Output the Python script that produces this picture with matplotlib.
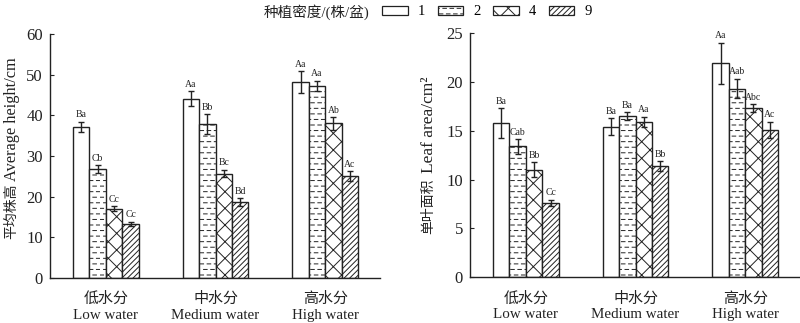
import numpy as np
import matplotlib
matplotlib.use("Agg")
import matplotlib.pyplot as plt
import matplotlib.hatch as mhatch
from matplotlib.path import Path
from matplotlib.patches import Patch

# ---------------- data ----------------
groups_cn = ["低水分", "中水分", "高水分"]
groups_en = ["Low water", "Medium water", "High water"]
densities = ["1", "2", "4", "9"]

height_vals = [[37.2, 26.8, 17.1, 13.3],
               [44.1, 37.9, 25.7, 18.7],
               [48.2, 47.2, 38.0, 25.0]]
height_err = [[1.2, 1.0, 0.5, 0.5],
              [1.8, 2.4, 0.9, 0.9],
              [2.6, 1.3, 1.5, 1.2]]
height_lbl = [["Ba", "Cb", "Cc", "Cc"],
              ["Aa", "Bb", "Bc", "Bd"],
              ["Aa", "Aa", "Ab", "Ac"]]

leaf_vals = [[15.8, 13.4, 11.0, 7.6],
             [15.4, 16.5, 15.9, 11.4],
             [21.9, 19.3, 17.3, 15.1]]
leaf_err = [[1.5, 0.75, 0.75, 0.35],
            [0.85, 0.4, 0.55, 0.5],
            [2.1, 1.0, 0.4, 0.8]]
leaf_lbl = [["Ba", "Cab", "Bb", "Cc"],
            ["Ba", "Ba", "Aa", "Bb"],
            ["Aa", "Aab", "Abc", "Ac"]]

# ---------------- custom dashed hatch (replaces '-') ----------------
class DashHatch(mhatch.HatchPatternBase):
    def __init__(self, hatch, density):
        self.num_rows = int(hatch.count('-') * density)
        self.k = 14
        self.num_vertices = self.num_rows * self.k * 2

    def set_vertices_and_codes(self, vertices, codes):
        idx = 0
        for i in range(self.num_rows):
            y = (i + 0.5) / self.num_rows
            off = 0.5 * (i % 2)
            for j in range(self.k):
                x0 = (j + off) / self.k
                x1 = x0 + 0.5 / self.k
                vertices[idx] = (x0, y)
                vertices[idx + 1] = (x1, y)
                codes[idx] = Path.MOVETO
                codes[idx + 1] = Path.LINETO
                idx += 2

mhatch._hatch_types[0] = DashHatch

plt.rcParams['hatch.linewidth'] = 0.7
plt.rcParams['font.family'] = ['Liberation Serif', 'Noto Sans CJK SC', 'DejaVu Sans']

hatches = [None, '---', 'xx', '//////']
ink = '#222222'

fig = plt.figure(figsize=(8.0, 3.23), dpi=100)
ax1 = fig.add_axes([0.0625, 0.139, 0.4125, 0.756])
ax2 = fig.add_axes([0.5875, 0.1415, 0.4125, 0.7565])

width = 0.15
x = np.arange(len(groups_cn))


def draw(ax, vals, errs, lbls, ymax, ystep, lbl_off):
    vals = np.array(vals)
    errs = np.array(errs)
    for k in range(len(densities)):
        pos = x + (k - 1.5) * width
        ax.bar(pos, vals[:, k], width, color='white', edgecolor=ink,
               linewidth=1.0, hatch=hatches[k], zorder=2)
        ax.errorbar(pos, vals[:, k], yerr=errs[:, k], fmt='none',
                    ecolor=ink, elinewidth=1.0, capsize=2.2,
                    capthick=1.0, zorder=3)
        for g in range(len(groups_cn)):
            ax.text(pos[g], vals[g, k] + errs[g, k] + lbl_off, lbls[g][k],
                    ha='center', va='bottom', fontsize=7, color=ink)
    ax.set_xlim(-0.51, 2.5)
    ax.set_ylim(0, ymax)
    ax.set_yticks(np.arange(0, ymax + 0.1, ystep))
    ax.set_xticks(x)
    ax.set_xticklabels([f"{c}\n{e}" for c, e in zip(groups_cn, groups_en)],
                       fontsize=10.8, linespacing=1.3, fontweight=500)
    ax.tick_params(axis='x', length=0, pad=10, colors=ink)
    ax.tick_params(axis='y', direction='in', length=3, labelsize=12,
                   colors=ink, pad=5)
    for s in ['top', 'right']:
        ax.spines[s].set_visible(False)
    for s in ['left', 'bottom']:
        ax.spines[s].set_color(ink)
        ax.spines[s].set_linewidth(1.0)


draw(ax1, height_vals, height_err, height_lbl, 60, 10, 0.6)
draw(ax2, leaf_vals, leaf_err, leaf_lbl, 25, 5, 0.25)

# y-axis titles (Chinese part and English part)
fig.text(0.015, 0.345, "平均株高", rotation=90, ha='center', va='center',
         fontsize=10, color=ink, fontweight=500)
fig.text(0.015, 0.630, "Average height/cm", rotation=90, ha='center',
         va='center', fontsize=11.8, color=ink)
fig.text(0.536, 0.360, "单叶面积", rotation=90, ha='center', va='center',
         fontsize=10, color=ink, fontweight=500)
fig.text(0.536, 0.615, "Leaf area/cm²", rotation=90, ha='center',
         va='center', fontsize=12.5, color=ink)

handles = [Patch(facecolor='white', edgecolor=ink, hatch=h, linewidth=0.9)
           for h in hatches]
fig.text(0.462, 0.963, "种植密度/(株/盆)", ha='right', va='center',
         fontsize=10.5, color=ink, fontweight=500)
fig.legend(handles, densities, loc='center left',
           bbox_to_anchor=(0.478, 0.963), ncol=4, frameon=False,
           fontsize=10.5, handlelength=1.75, handleheight=0.6,
           handletextpad=0.7, columnspacing=0.85, borderpad=0.0,
           borderaxespad=0.0)

fig.savefig("out.png", dpi=100)
